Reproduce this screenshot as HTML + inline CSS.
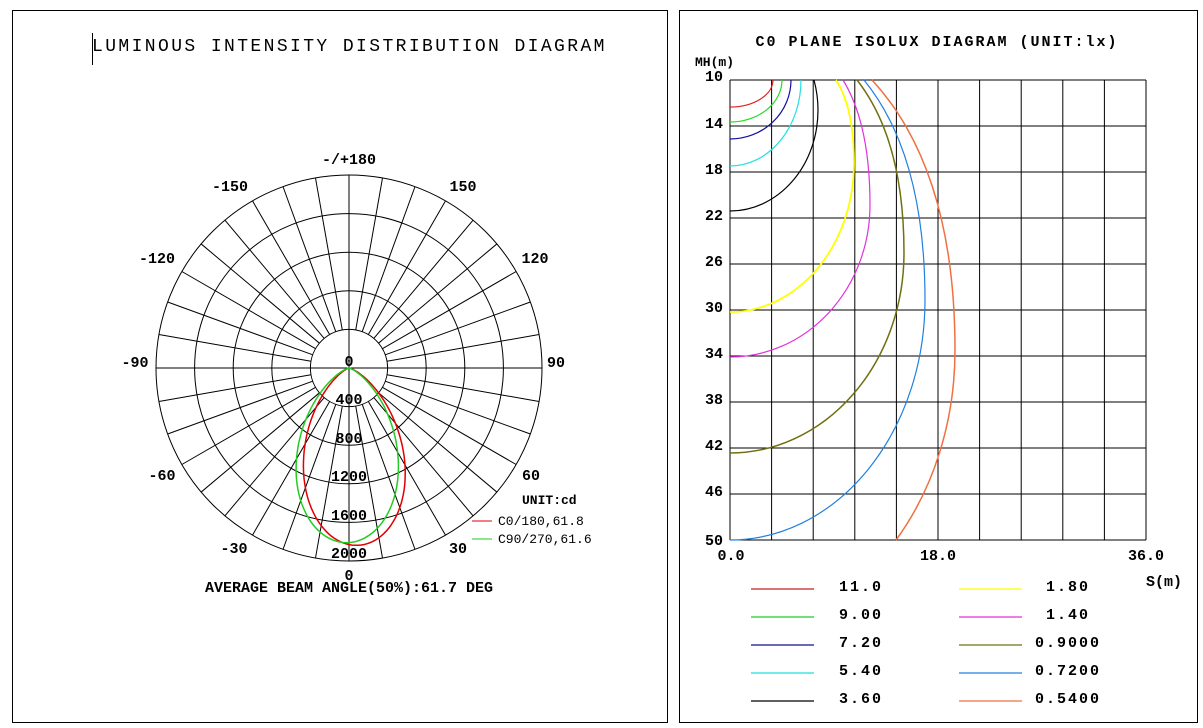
<!DOCTYPE html>
<html><head><meta charset="utf-8"><style>
html,body{margin:0;padding:0;background:#fff;width:1203px;height:728px;overflow:hidden}
svg{display:block}
text{font-family:"Liberation Mono",monospace;fill:#000}
.b{font-weight:bold;font-size:15px}
</style></head><body>
<svg id="s" width="1203" height="728" viewBox="0 0 1203 728" xmlns="http://www.w3.org/2000/svg">
<rect x="12.5" y="10.5" width="655" height="712" fill="none" stroke="#000"/>
<rect x="679.5" y="10.5" width="518" height="712" fill="none" stroke="#000"/>
<line x1="92.5" y1="33" x2="92.5" y2="65" stroke="#000"/>
<text x="92" y="51" font-size="18" letter-spacing="2.4">LUMINOUS INTENSITY DISTRIBUTION DIAGRAM</text>
<g id="polar" stroke="#000" stroke-width="1" fill="none"></g>
<g class="b" text-anchor="middle">
<text x="349" y="164">-/+180</text>
<text x="230" y="191">-150</text>
<text x="463" y="191">150</text>
<text x="157" y="263">-120</text>
<text x="535" y="263">120</text>
<text x="135" y="367">-90</text>
<text x="556" y="367">90</text>
<text x="162" y="480">-60</text>
<text x="531" y="480">60</text>
<text x="234" y="553">-30</text>
<text x="458" y="553">30</text>
<text x="349" y="580">0</text>
<text x="349" y="366">0</text>
<text x="349" y="404">400</text>
<text x="349" y="443">800</text>
<text x="349" y="481">1200</text>
<text x="349" y="520">1600</text>
<text x="349" y="558">2000</text>
<text x="349" y="592">AVERAGE BEAM ANGLE(50%):61.7 DEG</text>
</g>
<text x="522" y="504" class="b" style="font-size:13px">UNIT:cd</text>
<line x1="472" y1="521" x2="492" y2="521" stroke="#e00000"/>
<line x1="472" y1="539" x2="492" y2="539" stroke="#22cc22"/>
<text x="498" y="525" font-size="13">C0/180,61.8</text>
<text x="498" y="543" font-size="13">C90/270,61.6</text>
<g id="curves" fill="none" stroke-width="1.5"></g>

<text x="937" y="46" class="b" text-anchor="middle" letter-spacing="2">C0 PLANE ISOLUX DIAGRAM (UNIT:lx)</text>
<text x="695" y="66" class="b" style="font-size:13px">MH(m)</text>
<g id="grid" stroke="#000" stroke-width="1"></g>
<g class="b" text-anchor="end">
<text x="723" y="81">10</text><text x="723" y="128">14</text><text x="723" y="174">18</text>
<text x="723" y="220">22</text><text x="723" y="266">26</text><text x="723" y="312">30</text>
<text x="723" y="358">34</text><text x="723" y="404">38</text><text x="723" y="450">42</text>
<text x="723" y="496">46</text><text x="723" y="545">50</text>
</g>
<g class="b" text-anchor="middle">
<text x="731" y="560">0.0</text><text x="938" y="560">18.0</text><text x="1146" y="560">36.0</text>
</g>
<text x="1146" y="586" class="b">S(m)</text>
<g fill="none" stroke-width="1.2">
<path d="M773 80 A43 27 0 0 1 730 107" stroke="#e02020"/>
<path d="M782 80 A52 42 0 0 1 730 122" stroke="#22dd22"/>
<path d="M791 80 A61 59 0 0 1 730 139" stroke="#1010a0"/>
<path d="M801 80 A71 86 0 0 1 730 166" stroke="#22e0e0"/>
<path d="M814 80 Q818 95 818 110 A88 101 0 0 1 730 211" stroke="#000"/>
<path d="M836 80 Q854 108 854 163 A124 149 0 0 1 730 312" stroke="#ffff00" stroke-width="1.8"/>
<path d="M843 80 Q870 124 870 205 A140 152 0 0 1 730 357" stroke="#e030e0"/>
<path d="M857 80 Q904 140 904 253 A174 200 0 0 1 730 453" stroke="#707010" stroke-width="1.5"/>
<path d="M864 80 Q925 155 925 300 A195 240 0 0 1 730 540" stroke="#2080e0"/>
<path d="M872 80 Q955 170 955 350 A225 281 0 0 1 896 540" stroke="#f07040" stroke-width="1.5"/>
</g>
<g stroke-width="1.2">
<line x1="751" y1="589" x2="814" y2="589" stroke="#c02020"/>
<line x1="751" y1="617" x2="814" y2="617" stroke="#22cc22"/>
<line x1="751" y1="645" x2="814" y2="645" stroke="#101090"/>
<line x1="751" y1="673" x2="814" y2="673" stroke="#22dddd"/>
<line x1="751" y1="701" x2="814" y2="701" stroke="#000"/>
<line x1="959" y1="589" x2="1022" y2="589" stroke="#ffff00"/>
<line x1="959" y1="617" x2="1022" y2="617" stroke="#e030e0"/>
<line x1="959" y1="645" x2="1022" y2="645" stroke="#707010"/>
<line x1="959" y1="673" x2="1022" y2="673" stroke="#2080e0"/>
<line x1="959" y1="701" x2="1022" y2="701" stroke="#f07040"/>
</g>
<g class="b" text-anchor="middle" letter-spacing="2">
<text x="861" y="591">11.0</text><text x="861" y="619">9.00</text><text x="861" y="647">7.20</text>
<text x="861" y="675">5.40</text><text x="861" y="703">3.60</text>
<text x="1068" y="591">1.80</text><text x="1068" y="619">1.40</text><text x="1068" y="647">0.9000</text>
<text x="1068" y="675">0.7200</text><text x="1068" y="703">0.5400</text>
</g>
</svg>
<script>
(function(){
var NS="http://www.w3.org/2000/svg";
function el(p,t,a){var e=document.createElementNS(NS,t);for(var k in a)e.setAttribute(k,a[k]);p.appendChild(e);return e;}
var P=document.getElementById("polar"),cx=349,cy=368,R=193,r0=38.6;
for(var i=1;i<=5;i++)el(P,"circle",{cx:cx,cy:cy,r:r0*i});
el(P,"line",{x1:cx-R,y1:cy,x2:cx+R,y2:cy});el(P,"line",{x1:cx,y1:cy-R,x2:cx,y2:cy+R});
for(var d=0;d<360;d+=10){if(d%90==0)continue;var a=d*Math.PI/180;
el(P,"line",{x1:cx+r0*Math.sin(a),y1:cy+r0*Math.cos(a),x2:cx+R*Math.sin(a),y2:cy+R*Math.cos(a)});}
var C=document.getElementById("curves");
function lobe(Im,n,sk,col){var pts=[];for(var t=-90;t<=90;t+=1){var a=t*Math.PI/180;var c=Math.cos(a-sk*Math.PI/180);var I=c>0?Im*Math.pow(c,n):0;var r=I*R/2000;pts.push((cx+r*Math.sin(a)).toFixed(1)+","+(cy+r*Math.cos(a)).toFixed(1));}
el(C,"polyline",{points:pts.join(" "),stroke:col});}
lobe(1840,4,3,"#e00000");
lobe(1810,3.8,-1,"#22cc22");
var G=document.getElementById("grid");
for(var i=0;i<=10;i++){var x=730+i*41.6;el(G,"line",{x1:x,y1:80,x2:x,y2:540});var y=80+i*46;el(G,"line",{x1:730,y1:y,x2:1146,y2:y});}
})();
</script>
</body></html>
